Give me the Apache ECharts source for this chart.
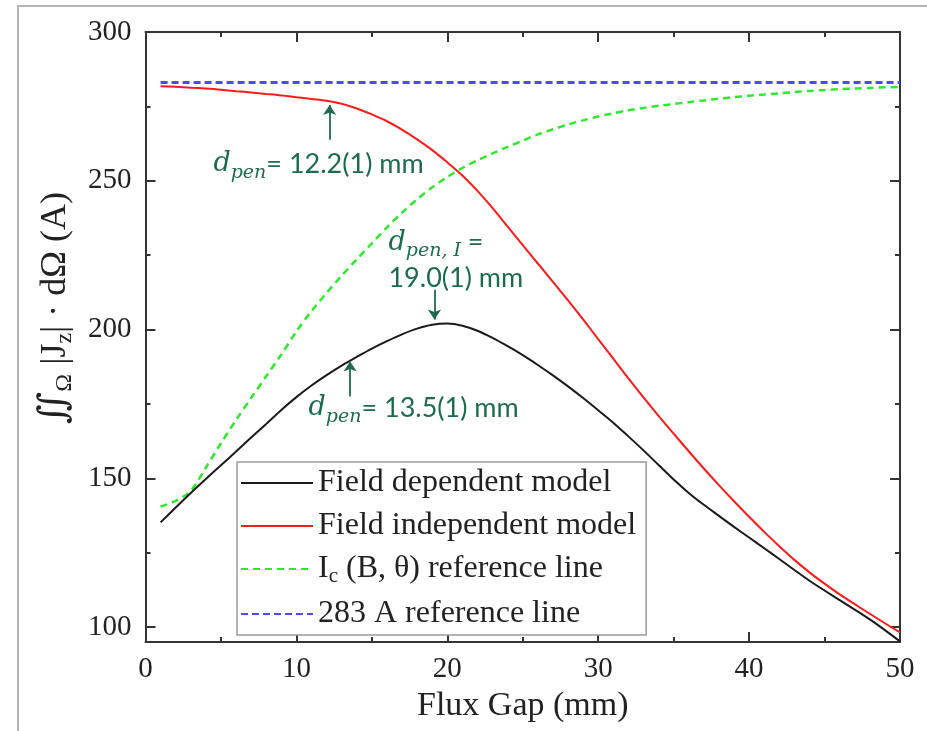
<!DOCTYPE html>
<html>
<head>
<meta charset="utf-8">
<script src="https://cdn.jsdelivr.net/npm/echarts@6/dist/echarts.min.js"></script>
<style>
  html, body, #main { width: 100%; height: 100%; margin: 0; background: #fff; }
</style>
</head>
<body>
<div id="main"></div>
<script>
// flux gap (mm) sampled every 1 mm
var gapMm = [1,2,3,4,5,6,7,8,9,10,11,12,13,14,15,16,17,18,19,20,21,22,23,24,25,
             26,27,28,29,30,31,32,33,34,35,36,37,38,39,40,41,42,43,44,45,46,47,48,49,50];
var fieldDep = [135.2,140.2,145.1,149.8,154.4,159.0,163.7,168.3,173.0,177.3,181.2,184.7,187.9,190.8,193.6,196.1,198.4,200.3,201.6,202.0,
                201.3,199.6,197.2,194.4,191.4,188.1,184.6,180.9,177.0,172.9,168.7,164.1,159.4,154.5,149.6,145.1,141.1,137.4,133.7,130.1,
                126.5,122.9,119.2,115.6,112.3,109.1,105.9,102.6,99.0,95.2];
var fieldIndep = [281.8,281.6,281.3,281.0,280.6,280.1,279.7,279.2,278.7,278.1,277.5,276.9,275.9,274.3,272.3,270.0,267.2,263.9,260.3,256.2,
                  251.8,246.6,240.8,234.6,228.4,222.2,216.0,209.8,203.4,196.8,190.2,183.6,177.2,171.0,165.0,159.1,153.3,147.7,142.3,137.1,
                  132.0,127.2,122.6,118.4,114.6,111.0,107.7,104.5,101.3,98.2];
var icRef = [140.5,142.4,145.8,153.6,161.8,169.6,177.0,184.3,191.6,199.4,206.2,212.3,218.1,223.6,229.0,234.3,239.3,243.8,247.8,251.3,
             254.3,256.9,259.2,261.4,263.5,265.6,267.3,268.9,270.3,271.6,272.7,273.7,274.5,275.2,275.8,276.4,277.0,277.6,278.1,278.6,
             279.0,279.4,279.8,280.2,280.5,280.8,281.0,281.2,281.4,281.5];
var refLevel = 283;

var seriesNames = ['Field dependent model', 'Field independent model', 'Ic (B, θ) reference line', '283 A reference line'];
var xTicks = [0, 50, 10];
var yMajor = [100, 150, 200, 250, 300];
var yMinor = [125, 175, 225, 275];

// annotation anchors (data units): [x, yText] and arrows [x, yTail, yTip]
var noteLabels = [
  { at: [4.5, 255.5], sub: 'pen', rest: '= 12.2(1) mm' },
  { at: [16.1, 223.2], sub: 'pen, I', rest: ' =\n19.0(1) mm' },
  { at: [10.8, 173.6], sub: 'pen', rest: '= 13.5(1) mm' }
];
var noteArrows = [[12.2, 263.8, 275.5], [19.15, 213.4, 203.4], [13.56, 177.5, 189.3]];

var pairs = function (ys) { return gapMm.map(function (g, i) { return [g, ys[i]]; }); };

var serif = 'Liberation Serif';
var axisCol = '#333';
var noteCol = '#1e6a4c';

var chart = echarts.init(document.getElementById('main'));

function xAxis(pos, labels) {
  return {
    type: 'value', position: pos, min: xTicks[0], max: xTicks[1], interval: xTicks[2],
    axisLine: { onZero: false, lineStyle: { color: axisCol, width: 2 } },
    axisTick: { inside: true, length: 10, lineStyle: { color: axisCol, width: 2 } },
    minorTick: { show: true, splitNumber: 2, length: 5, lineStyle: { color: axisCol, width: 2 } },
    axisLabel: { show: labels, fontFamily: serif, fontSize: 29, color: '#222', margin: 13 },
    splitLine: { show: false },
    name: labels ? 'Flux Gap (mm)' : '', nameLocation: 'middle', nameGap: 47,
    nameTextStyle: { fontFamily: serif, fontSize: 34, color: '#222' }
  };
}
function yAxis(pos, ticks, len, labels, line) {
  var a = {
    type: 'value', position: pos, min: 95, max: 300,
    axisLine: { show: line, onZero: false, lineStyle: { color: axisCol, width: 2 } },
    axisTick: { inside: true, length: len, customValues: ticks, lineStyle: { color: axisCol, width: 2 } },
    axisLabel: { show: labels, customValues: yMajor, fontFamily: serif, fontSize: 29, color: '#222', margin: 14 },
    splitLine: { show: false }
  };
  if (labels) {
    a.name = '{i|∬}{s|Ω}{n| |J}{s|z}{n|| · dΩ (A)}';
    a.nameLocation = 'middle';
    a.nameGap = 66;
    a.nameTextStyle = {
      padding: [0, 0, 0, 58],
      rich: {
        i: { fontFamily: 'DejaVu Serif', fontSize: 38, color: '#222', lineHeight: 44 },
        n: { fontFamily: serif, fontSize: 36, color: '#222', lineHeight: 44 },
        s: { fontFamily: serif, fontSize: 24, color: '#222', verticalAlign: 'bottom' }
      }
    };
  }
  return a;
}

var noteRich = {
  d: { fontFamily: 'DejaVu Serif', fontStyle: 'italic', fontSize: 27, color: noteCol, lineHeight: 36 },
  s: { fontFamily: 'DejaVu Serif', fontStyle: 'italic', fontSize: 19, color: noteCol, verticalAlign: 'bottom' },
  t: { fontFamily: 'Lato', fontSize: 27, color: noteCol, lineHeight: 36 }
};

var option = {
  backgroundColor: '#fff',
  animation: false,
  grid: { left: 145.5, right: 27, top: 32, bottom: 89 },
  graphic: [{
    type: 'rect', shape: { x: 18, y: 6, width: 1000, height: 1000 },
    style: { fill: 'none', stroke: '#b4b4b4', lineWidth: 2 }, silent: true
  }],
  legend: {
    orient: 'vertical', left: 237, top: 462,
    data: seriesNames,
    itemWidth: 72, itemHeight: 14, itemGap: 11,
    padding: [5, 10, 5, 3],
    itemStyle: { opacity: 0 },
    borderColor: '#9a9a9a', borderWidth: 1.5, backgroundColor: '#fff',
    textStyle: {
      fontFamily: serif, fontSize: 32, color: '#222',
      rich: {
        n: { fontFamily: serif, fontSize: 32, color: '#222', lineHeight: 36 },
        c: { fontFamily: serif, fontSize: 21, color: '#222', verticalAlign: 'bottom' }
      }
    },
    formatter: function (name) {
      if (name === seriesNames[2]) return '{n|I}{c|c}{n| (B, θ) reference line}';
      return name;
    }
  },
  xAxis: [xAxis('bottom', true), xAxis('top', false)],
  yAxis: [
    yAxis('left', yMajor, 10, true, true),
    yAxis('left', yMinor, 5, false, false),
    yAxis('right', yMajor, 10, false, true),
    yAxis('right', yMinor, 5, false, false)
  ],
  series: [
    { name: seriesNames[0], type: 'line', data: pairs(fieldDep), symbol: 'none', smooth: 0.3, z: 4,
      lineStyle: { color: '#1a1a1a', width: 2 }, itemStyle: { color: '#1a1a1a' } },
    { name: seriesNames[1], type: 'line', data: pairs(fieldIndep), symbol: 'none', smooth: 0.3, z: 4,
      lineStyle: { color: '#ff1a1a', width: 2 }, itemStyle: { color: '#ff1a1a' } },
    { name: seriesNames[2], type: 'line', data: pairs(icRef), symbol: 'none', smooth: 0.3, z: 3,
      lineStyle: { color: '#2ee82e', width: 2.5, type: [7, 5] }, itemStyle: { color: '#2ee82e' } },
    { name: seriesNames[3], type: 'line', data: [[gapMm[0], refLevel], [gapMm[gapMm.length - 1], refLevel]],
      symbol: 'none', z: 3,
      lineStyle: { color: '#4a4aff', width: 3, type: [7, 4] }, itemStyle: { color: '#4a4aff' } },
    { name: 'notes', type: 'line', data: [], symbol: 'none', silent: true,
      markLine: {
        silent: true, symbol: ['none', 'arrow'], symbolSize: 10, animation: false,
        lineStyle: { color: noteCol, width: 1.8, type: 'solid' }, label: { show: false },
        data: noteArrows.map(function (a) { return [{ coord: [a[0], a[1]] }, { coord: [a[0], a[2]] }]; })
      },
      markPoint: {
        silent: true, symbol: 'rect', symbolSize: 1, itemStyle: { color: 'rgba(0,0,0,0)' }, animation: false,
        data: noteLabels.map(function (n) {
          return {
            coord: n.at,
            label: {
              show: true, position: 'inside', align: 'left', verticalAlign: 'middle',
              formatter: '{d|d}{s|' + n.sub + '}' + n.rest.split('\n').map(function (p) { return '{t|' + p + '}'; }).join('\n'),
              rich: noteRich
            }
          };
        })
      }
    }
  ]
};

chart.setOption(option);
window.onresize = chart.resize;
</script>
</body>
</html>
